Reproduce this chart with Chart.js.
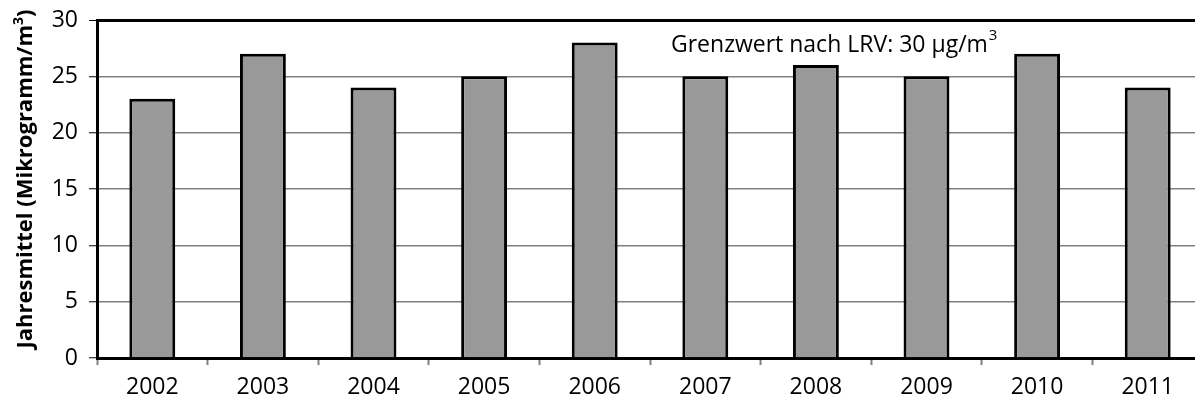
<!DOCTYPE html>
<html>
<head>
<meta charset="utf-8">
<script src="https://cdn.jsdelivr.net/npm/chart.js@4/dist/chart.umd.min.js"></script>
<style>
  html, body { margin: 0; padding: 0; background: #fff; overflow: hidden; }
  #wrap { width: 1210px; height: 405px; }
</style>
</head>
<body>
<div id="wrap"><canvas id="c"></canvas></div>
<script>
const years = ['2002', '2003', '2004', '2005', '2006', '2007', '2008', '2009', '2010', '2011'];
const jahresmittel = [23, 27, 24, 25, 28, 25, 26, 25, 27, 24];
const yTitle = 'Jahresmittel (Mikrogramm/m';
const grenzText = 'Grenzwert nach LRV: 30 µg/m';

const FONT = '"Open Sans", sans-serif';

// y-Titel und Grenzwert-Text
const textPlugin = {
    id: 'texte',
    afterDraw(chart) {
        const ctx = chart.ctx;
        ctx.save();
        ctx.fillStyle = '#000';
        // Achsentitel (rotiert, fett)
        ctx.translate(32, 179);
        ctx.rotate(-Math.PI / 2);
        ctx.font = 'bold 22px ' + FONT;
        const w = ctx.measureText(yTitle).width;
        const wp = ctx.measureText(')').width;
        ctx.font = 'bold 14px ' + FONT;
        const w3 = ctx.measureText('3').width;
        let x0 = -(w + w3 + wp) / 2;
        ctx.textBaseline = 'alphabetic';
        ctx.font = 'bold 22px ' + FONT;
        ctx.fillText(yTitle, x0, 0);
        ctx.font = 'bold 14px ' + FONT;
        ctx.fillText('3', x0 + w, -9);
        ctx.font = 'bold 22px ' + FONT;
        ctx.fillText(')', x0 + w + w3, 0);
        ctx.restore();

        ctx.save();
        ctx.fillStyle = '#000';
        ctx.font = '23px ' + FONT;
        ctx.textBaseline = 'alphabetic';
        const gx = 671, gy = 52;
        ctx.fillText(grenzText, gx, gy);
        const gw = ctx.measureText(grenzText).width;
        ctx.font = '15px ' + FONT;
        ctx.fillText('3', gx + gw + 1, gy - 12);
        ctx.restore();
    }
};

new Chart(document.getElementById('c'), {
    type: 'bar',
    data: {
        labels: years,
        datasets: [{
            data: jahresmittel,
            backgroundColor: '#999999',
            borderColor: '#000',
            borderWidth: 3,
            barPercentage: 0.415,
            categoryPercentage: 1
        }]
    },
    options: {
        responsive: true,
        maintainAspectRatio: false,
        animation: false,
        layout: { padding: { top: 20, right: 7, left: 0, bottom: 0 } },
        plugins: { legend: { display: false }, tooltip: { enabled: false } },
        scales: {
            x: {
                grid: { display: true, drawOnChartArea: false, drawTicks: true, tickLength: 7, tickColor: '#808080', tickWidth: 2, offset: true },
                border: { color: '#000', width: 3 },
                ticks: { color: '#000', font: { family: FONT, size: 23 }, padding: 9, maxRotation: 0 },
                afterFit(s) { s.height = 47; s.paddingLeft = 0; s.paddingRight = 0; }
            },
            y: {
                min: 0, max: 30,
                ticks: { stepSize: 5, color: '#000', font: { family: FONT, size: 23 }, padding: 11 },
                grid: {
                    color: ctx => ctx.tick && ctx.tick.value === 30 ? '#000' : '#808080',
                    lineWidth: ctx => ctx.tick && ctx.tick.value === 30 ? 3 : 1.5,
                    tickColor: '#000', tickLength: 8, tickWidth: 1
                },
                border: { color: '#000', width: 3 },
                afterFit(s) { s.width = 97; s.paddingTop = 0; s.paddingBottom = 0; }
            }
        }
    },
    plugins: [textPlugin]
});
</script>
</body>
</html>
